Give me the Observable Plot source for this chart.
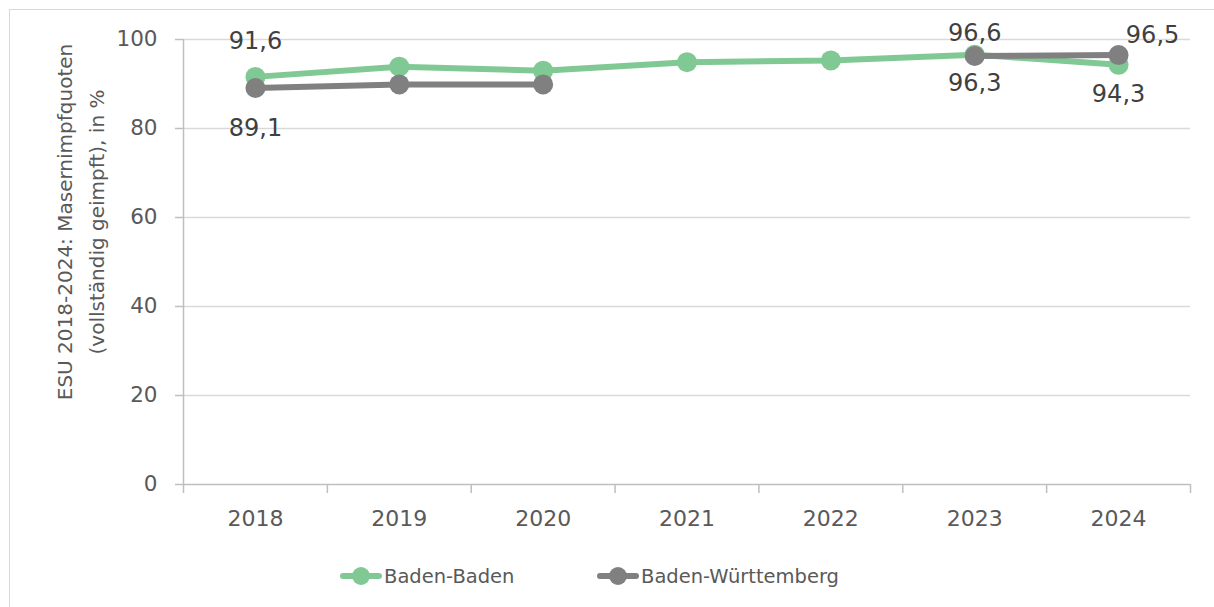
<!DOCTYPE html>
<html>
<head>
<meta charset="utf-8">
<script src="https://cdn.jsdelivr.net/npm/d3@7"></script>
<script src="https://cdn.jsdelivr.net/npm/@observablehq/plot@0.6"></script>
<style>
  html, body { margin: 0; padding: 0; background: #fff; }
  #wrap { position: relative; width: 1214px; height: 607px; overflow: hidden; font-family: "DejaVu Sans", sans-serif; }
  #border { position: absolute; left: 9px; top: 9px; width: 1300px; height: 700px; border-left: 1.5px solid #d9d9d9; border-top: 1.5px solid #d9d9d9; }
  #chart { position: absolute; left: 0; top: 0; }
  #legend { position: absolute; left: 0; top: 550px; width: 1214px; height: 57px; }
  .item { position: absolute; top: 12px; display: flex; align-items: center; color: #595959; font-size: 19.5px; }
</style>
</head>
<body>
<div id="wrap">
  <div id="border"></div>
  <div id="chart"></div>
  <div id="legend"></div>
</div>
<script>
const years = [2018, 2019, 2020, 2021, 2022, 2023, 2024];
const badenBaden = [91.6, 93.9, 93.0, 94.9, 95.3, 96.6, 94.3];
const badenWuerttemberg = [89.1, 89.9, 89.9, null, null, 96.3, 96.5];
const seriesNames = ["Baden-Baden", "Baden-Württemberg"];
const yTicks = [0, 20, 40, 60, 80, 100];
const yTitle = ["ESU 2018-2024: Masernimpfquoten", "(vollständig geimpft), in %"];
// which points carry a value label
const labeled = [
  {series: "Baden-Baden", year: 2018},
  {series: "Baden-Baden", year: 2023},
  {series: "Baden-Baden", year: 2024},
  {series: "Baden-Württemberg", year: 2018},
  {series: "Baden-Württemberg", year: 2023},
  {series: "Baden-Württemberg", year: 2024}
];

// layout / style (not data)
const colors = {"Baden-Baden": "#80c994", "Baden-Württemberg": "#808080"};
const labelOffsets = {
  "Baden-Baden|2018": [0, -36],
  "Baden-Baden|2023": [0, -21],
  "Baden-Baden|2024": [0, 29],
  "Baden-Württemberg|2018": [0, 40],
  "Baden-Württemberg|2023": [0, 27],
  "Baden-Württemberg|2024": [34, -20]
};

const bb = years.map((year, i) => ({year, value: badenBaden[i], series: seriesNames[0]}));
const bw = years.map((year, i) => ({year, value: badenWuerttemberg[i], series: seriesNames[1]}));
const all = bb.concat(bw);
const boundaries = years.map(y => y - 0.5).concat([years[years.length - 1] + 0.5]);
const fmt = v => v.toFixed(1).replace(".", ",");

const labelMarks = labeled.map(l => {
  const d = all.find(p => p.series === l.series && p.year === l.year);
  const [dx, dy] = labelOffsets[l.series + "|" + l.year];
  return Plot.text([d], {x: "year", y: "value", text: p => fmt(p.value), dx, dy,
    fill: "#404040", fontSize: 24, textAnchor: "middle", lineAnchor: "middle"});
});

const seriesMarks = [bb, bw].flatMap(data => [
  Plot.line(data, {x: "year", y: "value", stroke: colors[data[0].series], strokeWidth: 6}),
  Plot.dot(data.filter(d => d.value != null), {x: "year", y: "value", r: 10, fill: colors[data[0].series], stroke: "none"})
]);

const chart = Plot.plot({
  width: 1214,
  height: 550,
  marginLeft: 183,
  marginRight: 24,
  marginTop: 39,
  marginBottom: 66,
  style: {fontFamily: "DejaVu Sans, sans-serif", background: "transparent"},
  x: {domain: [boundaries[0], boundaries[boundaries.length - 1]]},
  y: {domain: [0, 100]},
  marks: [
    Plot.ruleY(yTicks.filter(t => t > 0), {stroke: "#d9d9d9", strokeWidth: 1.5}),
    Plot.ruleY([0], {stroke: "#bfbfbf", strokeWidth: 1.5}),
    Plot.ruleX([boundaries[0]], {stroke: "#bfbfbf", strokeWidth: 1.5}),
    Plot.axisY({ticks: yTicks, tickSize: 8, tickPadding: 18, stroke: "#bfbfbf", strokeWidth: 1.5, fill: "#595959", fontSize: 21.5, label: null, tickFormat: d => String(d)}),
    Plot.axisX({ticks: boundaries, tickSize: 9, stroke: "#bfbfbf", strokeWidth: 1.5, tickFormat: () => "", label: null}),
    Plot.axisX({ticks: years, tickSize: 0, tickPadding: 26, fill: "#595959", fontSize: 22, tickFormat: d => String(d), label: null}),
    Plot.text([yTitle.join("\n")], {frameAnchor: "left", dx: -106, dy: -40, rotate: -90, fill: "#595959", fontSize: 20, textAnchor: "middle", lineAnchor: "middle", lineHeight: 1.6}),
    ...seriesMarks,
    ...labelMarks
  ]
});
document.getElementById("chart").appendChild(chart);

// legend
const legendPos = [340, 597];
const legend = document.getElementById("legend");
seriesNames.forEach((name, i) => {
  const item = document.createElement("div");
  item.className = "item";
  item.style.left = legendPos[i] + "px";
  item.innerHTML = `<svg width="42" height="28" style="margin-right:2px"><line x1="3" y1="14" x2="39" y2="14" stroke="${colors[name]}" stroke-width="6" stroke-linecap="round"/><circle cx="21" cy="14" r="9" fill="${colors[name]}"/></svg><span>${name}</span>`;
  legend.appendChild(item);
});
</script>
</body>
</html>
